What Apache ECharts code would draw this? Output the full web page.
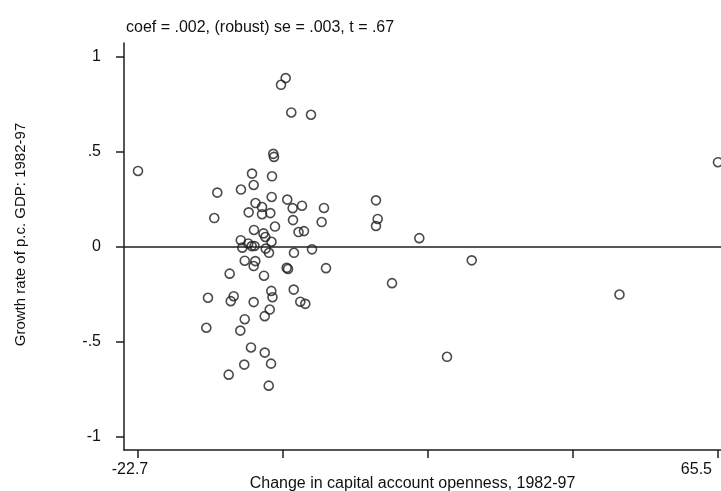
<!DOCTYPE html>
<html>
<head>
<meta charset="utf-8">
<script src="https://cdn.jsdelivr.net/npm/echarts@6/dist/echarts.min.js"></script>
<style>
html,body{margin:0;padding:0;background:#fff;}
#chart{width:721px;height:491px;}
</style>
</head>
<body>
<div id="chart"></div>
<script>
// Change in capital account openness, 1982-97
const xVals = [
  -0.24, -0.95, 0.61, 3.61, -2.13, -2.02, -22.7, -5.36, -2.32, -5.11,
  -7.04, -10.64, -2.37, 0.0, 13.49, -4.83, -3.84, 2.24, 0.82, 5.58,
  -5.87, -3.84, -2.58, -11.10, 0.87, 5.23, 13.75, 13.49, -1.87, -5.06,
  1.71, 2.54, -3.62, -3.34, 20.08, -7.07, -2.40, -5.93, -5.41, -4.98,
  -6.84, -3.28, -2.78, 1.02, 3.76, -6.47, -4.86, -5.11, -0.09, 0.11,
  5.89, -8.76, -3.54, 28.05, 15.93, 0.98, -2.43, -2.25, -12.06, -8.15,
  -8.60, -5.11, 1.98, 2.74, 50.52, -2.67, -3.43, -6.47, -12.31, -7.14,
  -5.52, -3.42, 24.29, -2.47, -6.54, -8.91, -2.82, 65.5
];
// Growth rate of p.c. GDP: 1982-97
const yVals = [
  0.889, 0.854, 0.708, 0.696, 0.490, 0.474, 0.40, 0.386, 0.372, 0.326,
  0.302, 0.286, 0.263, 0.249, 0.245, 0.231, 0.210, 0.217, 0.204, 0.205,
  0.182, 0.172, 0.178, 0.152, 0.141, 0.131, 0.147, 0.110, 0.107, 0.089,
  0.078, 0.083, 0.071, 0.052, 0.046, 0.035, 0.027, 0.018, 0.004, 0.005,
  -0.004, -0.009, -0.031, -0.031, -0.013, -0.073, -0.075, -0.101, -0.110, -0.116,
  -0.112, -0.141, -0.152, -0.071, -0.191, -0.225, -0.232, -0.265, -0.268, -0.260,
  -0.286, -0.291, -0.289, -0.300, -0.251, -0.330, -0.365, -0.381, -0.426, -0.441,
  -0.530, -0.557, -0.579, -0.615, -0.620, -0.673, -0.731, 0.446
];
const xTicks = [-22.7, -0.65, 21.4, 43.45, 65.5];
const xTickLabels = [-22.7, 65.5];
const yTicks = [-1, -0.5, 0, 0.5, 1];
const titleText = 'coef = .002, (robust) se = .003, t = .67';
const xName = 'Change in capital account openness, 1982-97';
const yName = 'Growth rate of p.c. GDP: 1982-97';

const points = xVals.map((x, i) => [x, yVals[i]]);
const fmtY = v => {
  if (Math.abs(v) < 1e-9) return '0';
  const s = String(v);
  return s.replace(/^(-?)0\./, '$1.');
};

const chart = echarts.init(document.getElementById('chart'), null, {renderer: 'canvas'});
const font = 'Liberation Sans, Arial, Helvetica, sans-serif';
const ink = '#1e1e1e';
const txt = '#111';

chart.setOption({
  backgroundColor: '#fff',
  animation: false,
  title: {
    text: titleText,
    left: 121,
    top: 15,
    textStyle: {fontFamily: font, fontSize: 16, fontWeight: 'normal', color: txt}
  },
  grid: {left: 124, right: 0, top: 43, bottom: 41, outerBoundsMode: 'none', containLabel: false},
  xAxis: {
    type: 'value',
    min: -24.83,
    max: 65.96,
    name: xName,
    nameLocation: 'middle',
    nameGap: 26,
    nameMoveOverlap: false,
    nameTextStyle: {fontFamily: font, fontSize: 16, color: txt, padding: [0, 20, 0, 0]},
    axisLine: {show: true, onZero: false, lineStyle: {color: ink, width: 1.5}},
    axisTick: {show: true, length: 8, customValues: xTicks, lineStyle: {color: ink, width: 1.5}},
    axisLabel: {
      customValues: xTickLabels,
      margin: 12,
      fontFamily: font, fontSize: 16, color: txt,
      formatter: v => (v < 0 ? '{a|' + v + '}' : '{b|' + v + '}'),
      rich: {
        a: {fontFamily: font, fontSize: 16, color: txt, padding: [0, 16, 0, 0]},
        b: {fontFamily: font, fontSize: 16, color: txt, padding: [0, 6, 0, 0]}
      },
      alignMaxLabel: 'right'
    },
    splitLine: {show: false}
  },
  yAxis: {
    type: 'value',
    min: -1.07,
    max: 1.074,
    name: yName,
    nameLocation: 'middle',
    nameGap: 96,
    nameMoveOverlap: false,
    nameTextStyle: {fontFamily: font, fontSize: 15, color: txt, padding: [0, 0, 0, 24]},
    axisLine: {show: true, onZero: false, lineStyle: {color: ink, width: 1.5}},
    axisTick: {show: true, length: 8, customValues: yTicks, lineStyle: {color: ink, width: 1.5}},
    axisLabel: {
      customValues: yTicks,
      margin: 23,
      fontFamily: font, fontSize: 16, color: txt,
      formatter: fmtY
    },
    splitLine: {show: false}
  },
  series: [{
    type: 'scatter',
    data: points,
    symbol: 'circle',
    symbolSize: 9,
    itemStyle: {color: 'rgba(0,0,0,0)', borderColor: ink, borderWidth: 1.6},
    markLine: {
      silent: true,
      symbol: ['none', 'none'],
      label: {show: false},
      lineStyle: {color: ink, width: 1.5, type: 'solid'},
      data: [{yAxis: 0}]
    }
  }]
});
</script>
</body>
</html>
